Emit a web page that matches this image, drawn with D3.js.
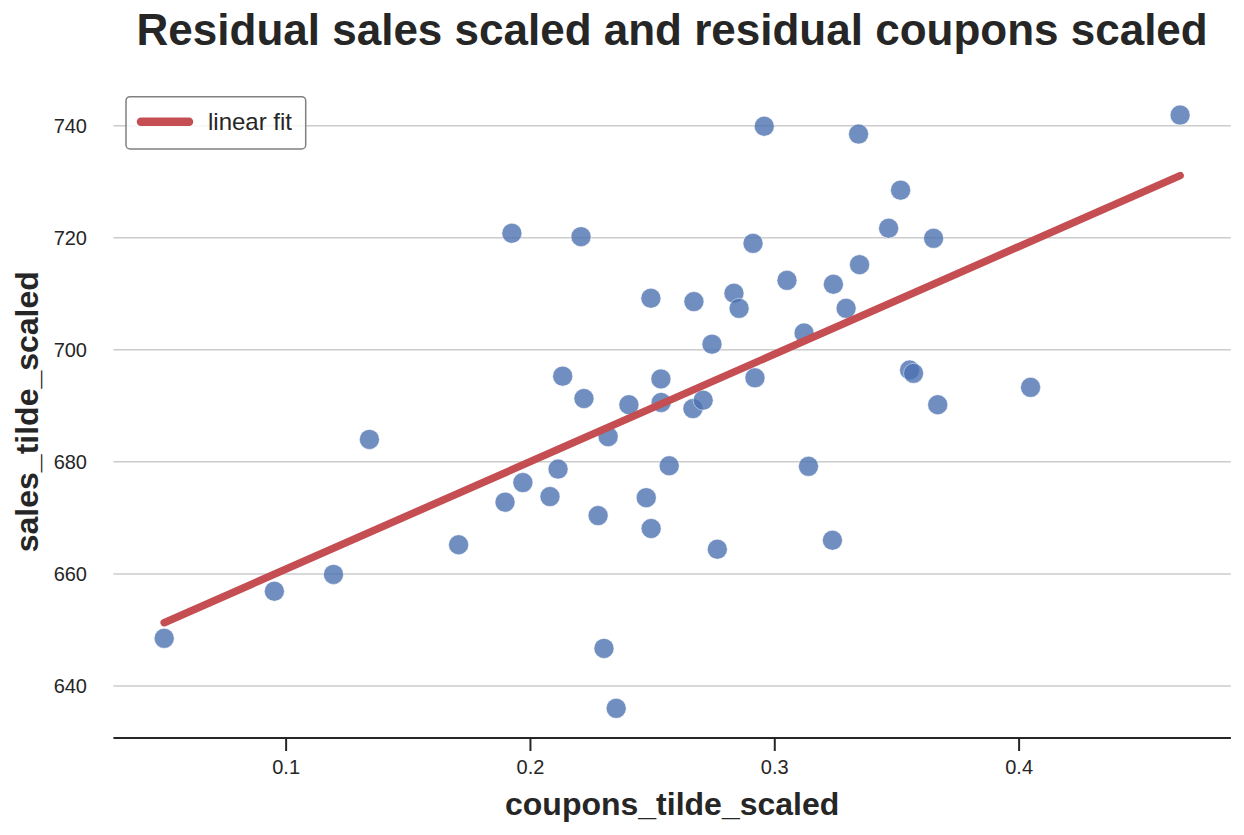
<!DOCTYPE html>
<html>
<head>
<meta charset="utf-8">
<script src="https://cdn.jsdelivr.net/npm/d3@7"></script>
<style>
  body { margin: 0; background: #fff; }
  text { font-family: "Liberation Sans", Arial, sans-serif; fill: #262626; }
</style>
</head>
<body>
<div id="chart"></div>
<script>

// data
var couponsTildeScaled = [
  0.0503, 0.0954, 0.1196, 0.1343, 0.1708, 0.1898, 0.1926, 0.1971, 0.2082, 0.2115,
  0.2134, 0.2209, 0.2221, 0.2279, 0.2303, 0.2320, 0.2353, 0.2405, 0.2476, 0.2495,
  0.2496, 0.2536, 0.2537, 0.2570, 0.2667, 0.2671, 0.2709, 0.2745, 0.2767, 0.2835,
  0.2856, 0.2913, 0.2921, 0.2959, 0.3052, 0.3122, 0.3140, 0.3238, 0.3242, 0.3294,
  0.3345, 0.3349, 0.3468, 0.3517, 0.3554, 0.3570, 0.3652, 0.3669, 0.4049, 0.4661
];
var salesTildeScaled = [
  648.5, 656.9, 659.9, 684.0, 665.2, 672.8, 720.8, 676.3, 673.8, 678.7,
  695.3, 720.2, 691.3, 670.4, 646.7, 684.5, 636.0, 690.2, 673.6, 709.2,
  668.1, 694.8, 690.6, 679.3, 689.5, 708.6, 691.0, 701.0, 664.4, 710.1,
  707.4, 719.0, 695.0, 739.9, 712.4, 703.0, 679.2, 666.0, 711.7, 707.4,
  738.5, 715.2, 721.7, 728.5, 696.4, 695.8, 719.9, 690.2, 693.3, 741.9
];
var xTicks = [0.1, 0.2, 0.3, 0.4];
var yTicks = [640, 660, 680, 700, 720, 740];

var titleText = "Residual sales scaled and residual coupons scaled";
var xLabel = "coupons_tilde_scaled";
var yLabel = "sales_tilde_scaled";
var legendLabel = "linear fit";

var w = 1244, h = 835;
var margin = {left: 113.4, right: 13.1, top: 85.4, bottom: 97};

var svg = d3.select('#chart').append('svg')
  .attr('width', w)
  .attr('height', h);

// 5% padding round the data, like matplotlib
function padded(arr) {
  var e = d3.extent(arr), p = (e[1] - e[0]) * 0.05;
  return [e[0] - p, e[1] + p];
}

var x = d3.scaleLinear().domain(padded(couponsTildeScaled)).range([margin.left, w - margin.right]);
var y = d3.scaleLinear().domain(padded(salesTildeScaled)).range([h - margin.bottom, margin.top]);

// grid
svg.append('g').selectAll('line')
  .data(yTicks)
  .enter().append('line')
  .attr('x1', x.range()[0])
  .attr('x2', x.range()[1])
  .attr('y1', function(d) { return y(d); })
  .attr('y2', function(d) { return y(d); })
  .style('stroke', '#cccccc')
  .style('stroke-width', 1.5);

// y tick labels (no spine, no tick marks)
svg.append('g').selectAll('text')
  .data(yTicks)
  .enter().append('text')
  .attr('x', 87)
  .attr('y', function(d) { return y(d); })
  .attr('dy', '0.35em')
  .attr('text-anchor', 'end')
  .style('font-size', '20px')
  .text(function(d) { return d; });

// x axis
var xAxis = d3.axisBottom(x)
  .tickValues(xTicks)
  .tickFormat(d3.format('.1f'))
  .tickSize(13)
  .tickPadding(9);

var gx = svg.append('g')
  .attr('transform', 'translate(0,' + (h - margin.bottom) + ')')
  .call(xAxis);
gx.select('.domain')
  .attr('d', 'M' + x.range()[0] + ',0H' + x.range()[1])
  .style('stroke', '#262626')
  .style('stroke-width', 2);
gx.selectAll('.tick line').style('stroke', '#262626').style('stroke-width', 2);
gx.selectAll('.tick text')
  .style('font-size', '20px')
  .style('font-family', '"Liberation Sans", Arial, sans-serif')
  .style('fill', '#262626');

// scatter
svg.append('g').selectAll('circle')
  .data(couponsTildeScaled)
  .enter().append('circle')
  .attr('cx', function(d) { return x(d); })
  .attr('cy', function(d, i) { return y(salesTildeScaled[i]); })
  .attr('r', 10)
  .style('fill', '#4c72b0')
  .style('fill-opacity', 0.8)
  .style('stroke', '#ffffff')
  .style('stroke-opacity', 0.8)
  .style('stroke-width', 0.6);

// least squares fit
var mx = d3.mean(couponsTildeScaled), my = d3.mean(salesTildeScaled);
var sxy = 0, sxx = 0;
couponsTildeScaled.forEach(function(v, i) {
  sxy += (v - mx) * (salesTildeScaled[i] - my);
  sxx += (v - mx) * (v - mx);
});
var slope = sxy / sxx, intercept = my - slope * mx;
var fitX = d3.extent(couponsTildeScaled);

svg.append('line')
  .attr('x1', x(fitX[0]))
  .attr('y1', y(intercept + slope * fitX[0]))
  .attr('x2', x(fitX[1]))
  .attr('y2', y(intercept + slope * fitX[1]))
  .style('stroke', '#c44e52')
  .style('stroke-width', 7.5)
  .style('stroke-linecap', 'round');

// legend
var lg = svg.append('g');
lg.append('rect')
  .attr('x', 126).attr('y', 96.7)
  .attr('width', 179.7).attr('height', 52.3)
  .attr('rx', 4)
  .style('fill', '#fff')
  .style('fill-opacity', 0.8)
  .style('stroke', '#808080')
  .style('stroke-width', 1.5);
lg.append('line')
  .attr('x1', 141).attr('x2', 189)
  .attr('y1', 121.7).attr('y2', 121.7)
  .style('stroke', '#c44e52')
  .style('stroke-width', 8.5)
  .style('stroke-linecap', 'round');
lg.append('text')
  .attr('x', 208).attr('y', 121.7)
  .attr('dy', '0.35em')
  .style('font-size', '24px')
  .text(legendLabel);

// labels
svg.append('text')
  .attr('x', (x.range()[0] + x.range()[1]) / 2)
  .attr('y', 45)
  .attr('text-anchor', 'middle')
  .style('font-size', '44px')
  .style('font-weight', 'bold')
  .text(titleText);

svg.append('text')
  .attr('x', (x.range()[0] + x.range()[1]) / 2)
  .attr('y', 815)
  .attr('text-anchor', 'middle')
  .style('font-size', '32px')
  .style('font-weight', 'bold')
  .text(xLabel);

svg.append('text')
  .attr('transform', 'translate(38,' + ((y.range()[0] + y.range()[1]) / 2) + ') rotate(-90)')
  .attr('text-anchor', 'middle')
  .style('font-size', '32px')
  .style('font-weight', 'bold')
  .text(yLabel);

</script>
</body>
</html>
